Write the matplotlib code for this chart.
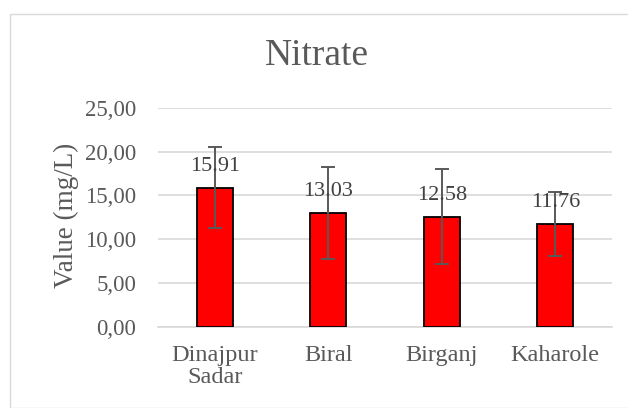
import matplotlib.pyplot as plt
import numpy as np
from matplotlib.patches import Rectangle

# data
categories = ['Dinajpur\nSadar', 'Biral', 'Birganj', 'Kaharole']
values = [15.91, 13.03, 12.58, 11.76]
errors = [4.64, 5.27, 5.43, 3.64]
yticks = [0, 5, 10, 15, 20, 25]

plt.rcParams['font.family'] = ['Liberation Serif', 'DejaVu Serif']

fig = plt.figure(figsize=(6.28, 4.08), dpi=100)
ax = fig.add_axes([158/628, 1-326.7/408, 454/628, (326.7-108)/408])

# outer chart border
fig.patches.append(Rectangle((10/628, 0.0), 1.0, 1-14/408, transform=fig.transFigure,
                             fill=False, edgecolor='#d9d9d9', linewidth=1.0))

x = np.arange(len(categories))
ax.bar(x, values, width=0.32, color='#ff0000', edgecolor='black', linewidth=1.3, zorder=3)
ax.errorbar(x, values, yerr=errors, fmt='none', ecolor='#595959', elinewidth=1.4,
            capsize=5, capthick=1.4, zorder=4)

for xi, v in zip(x, values):
    ax.annotate(f'{v:.2f}', (xi, v), xytext=(0, 15), textcoords='offset points',
                ha='center', va='center', fontsize=16, color='#404040', zorder=5)

ax.set_xlim(-0.5, len(categories) - 0.5)
ax.set_ylim(0, 25)
ax.set_yticks(yticks)
ax.set_yticklabels([f'{t:.2f}'.replace('.', ',') for t in yticks], fontsize=16.5, color='#595959')
ax.set_xticks(x)
ax.set_xticklabels(categories, fontsize=17.5, color='#595959', linespacing=1.1)
ax.tick_params(length=0)
ax.tick_params(axis='y', pad=15.5)
ax.tick_params(axis='x', pad=13)
ax.grid(axis='y', color='#d9d9d9', linewidth=1.2, zorder=0)
for s in ['top', 'right', 'left']:
    ax.spines[s].set_visible(False)
ax.spines['bottom'].set_color('#d9d9d9')
ax.spines['bottom'].set_linewidth(1.2)

ax.set_ylabel('Value (mg/L)', fontsize=19.5, color='#595959')
ax.yaxis.set_label_coords(-0.175, 0.51)
fig.text(0.5 + 3/628, 1 - 56/408, 'Nitrate', ha='center', va='center', fontsize=27, color='#595959')

fig.savefig('out.png', dpi=100)
